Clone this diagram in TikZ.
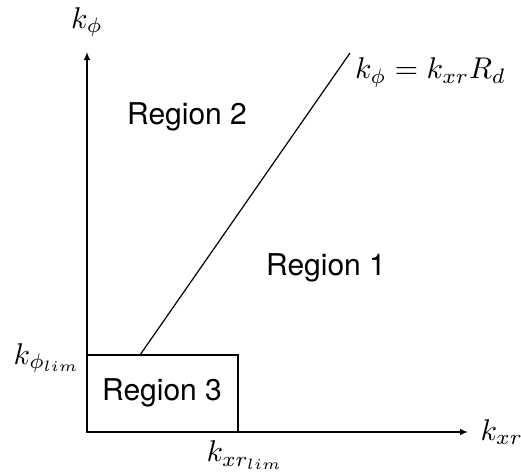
\documentclass[tikz,border=0pt]{standalone}
\usepackage{fontspec}
\setsansfont{TeX Gyre Heros}
\usetikzlibrary{positioning,arrows.meta}

\begin{document}
\begin{tikzpicture}[
    x=0.3333pt, y=-0.3333pt,
    >={Latex[length=2.7pt,width=2.3pt]},
    axis/.style={->, line width=0.55pt},
    region/.style={font=\sffamily},
    boundary/.style={line width=0.4pt},
    limbox/.style={draw, line width=0.6pt}
]
\useasboundingbox (0,0) rectangle (521,473);

% Axes
\coordinate (origin) at (87,432);
\coordinate (yend) at (87,52);
\coordinate (xend) at (468,432);
\draw[axis] (origin) -- (yend);
\draw[axis] (origin) -- (xend);
\node at (87,22) (kphi) {$k_\phi$};
\node[anchor=west, inner sep=4pt] at (xend) (kxr) {$k_{xr}$};

% Limit box (region 3)
\draw[limbox] (87,355) rectangle (238,432);
\node at (47,358) (kphilim) {$k_{\phi_{lim}}$};
\node at (245,455) (kxrlim) {$k_{xr_{lim}}$};

% Boundary line
\coordinate (bstart) at (140,355);
\coordinate (bend) at (350,53);
\draw[boundary] (bstart) -- (bend);
\node[anchor=north west, inner sep=1.5pt] at (bend) (blabel) {$k_\phi = k_{xr}R_d$};

% Region labels
\node[region] at (187,117) (reg2) {Region 2};
\node[region] at (326,268) (reg1) {Region 1};
\node[region] at (162,393) (reg3) {Region 3};

\end{tikzpicture}
\end{document}
